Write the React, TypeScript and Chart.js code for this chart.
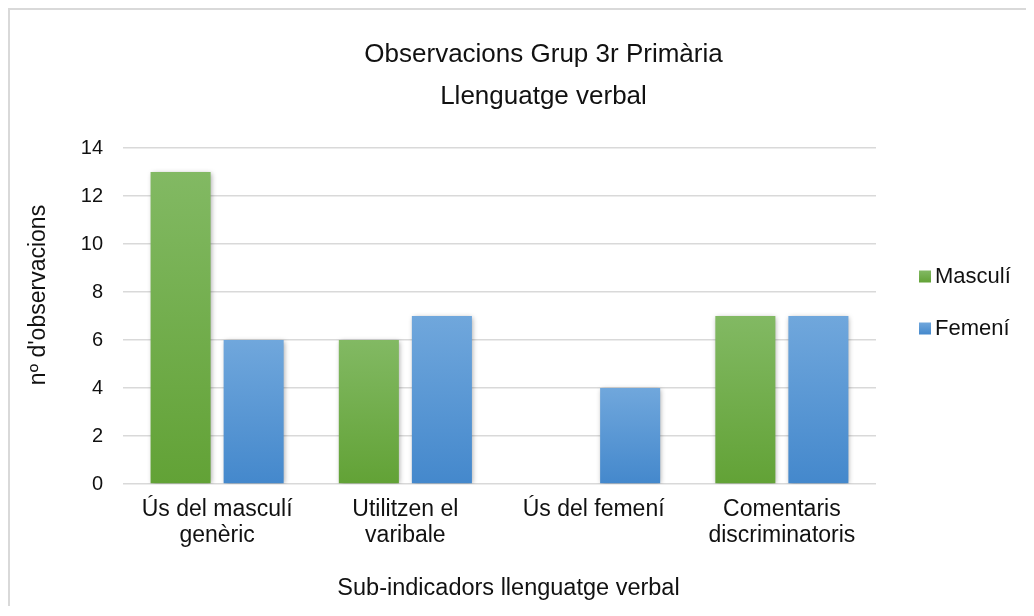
import React, { useEffect, useRef } from "react";
import { Chart, registerables } from "chart.js";

Chart.register(...registerables);

const categories: string[][] = [
  ["Ús del masculí", "genèric"],
  ["Utilitzen el", "varibale"],
  ["Ús del femení"],
  ["Comentaris", "discriminatoris"],
];
const seriesNames = ["Masculí", "Femení"];
const masculiValues = [13, 6, 0, 7];
const femeniValues = [6, 7, 4, 7];
const yTicks = [0, 2, 4, 6, 8, 10, 12, 14];
const titleLines = ["Observacions Grup 3r Primària", "Llenguatge verbal"];
const xAxisTitle = "Sub-indicadors llenguatge verbal";
const yAxisTitle = "nº d'observacions";

const FONT = "'Liberation Sans', Arial, Helvetica, sans-serif";
const TEXT = "#111111";
const GREEN_TOP = "#82b963";
const GREEN_BOTTOM = "#62a236";
const BLUE_TOP = "#70a7dc";
const BLUE_BOTTOM = "#4488cc";

function barGradient(top: string, bottom: string) {
  return (ctx: any) => {
    const chart = ctx.chart;
    const ys = chart.scales && chart.scales.y;
    if (!ys || ctx.type !== "data") return bottom;
    const v = ctx.raw as number;
    const y0 = ys.getPixelForValue(0);
    const y1 = ys.getPixelForValue(v);
    if (!isFinite(y0) || !isFinite(y1) || Math.abs(y0 - y1) < 1) return bottom;
    const g = chart.ctx.createLinearGradient(0, y1, 0, y0);
    g.addColorStop(0, top);
    g.addColorStop(1, bottom);
    return g;
  };
}

const shadowPlugin = {
  id: "barShadow",
  beforeDatasetsDraw(chart: any) {
    const c = chart.ctx;
    c.save();
    c.shadowColor = "rgba(0,0,0,0.35)";
    c.shadowBlur = 5;
    c.shadowOffsetX = 1;
    c.shadowOffsetY = 1;
  },
  afterDatasetsDraw(chart: any) {
    chart.ctx.restore();
  },
};

const textPlugin = {
  id: "textDecor",
  afterDraw(chart: any) {
    const c = chart.ctx;
    c.save();
    c.fillStyle = TEXT;
    // titles
    c.textAlign = "center";
    c.textBaseline = "alphabetic";
    c.font = `26px ${FONT}`;
    c.fillText(titleLines[0], 533.5, 51.7);
    c.fillText(titleLines[1], 533.5, 94);
    // x axis title
    c.font = `23.5px ${FONT}`;
    c.fillText(xAxisTitle, 498.5, 585);
    // y axis title
    c.save();
    c.translate(35, 285);
    c.rotate(-Math.PI / 2);
    c.textAlign = "center";
    c.font = `23px ${FONT}`;
    c.fillText(yAxisTitle, 0, 0);
    c.restore();
    // legend
    const tops = [GREEN_TOP, BLUE_TOP];
    const bottoms = [GREEN_BOTTOM, BLUE_BOTTOM];
    const centers = [266.5, 318.5];
    const baselines = [273.3, 324.5];
    chart.data.datasets.forEach((ds: any, i: number) => {
      const g = c.createLinearGradient(0, centers[i] - 6, 0, centers[i] + 6);
      g.addColorStop(0, tops[i]);
      g.addColorStop(1, bottoms[i]);
      c.fillStyle = g;
      c.fillRect(909, centers[i] - 6, 12, 12);
      c.fillStyle = TEXT;
      c.textAlign = "left";
      c.font = `22px ${FONT}`;
      c.fillText(ds.label, 925, baselines[i]);
    });
    c.restore();
  },
};

export default function App() {
  const ref = useRef<HTMLCanvasElement | null>(null);
  useEffect(() => {
    if (!ref.current) return;
    Chart.defaults.font.family = FONT;
    Chart.defaults.color = TEXT;
    const chart = new Chart(ref.current, {
      type: "bar",
      data: {
        labels: categories,
        datasets: [
          {
            label: seriesNames[0],
            data: masculiValues,
            backgroundColor: barGradient(GREEN_TOP, GREEN_BOTTOM),
            borderWidth: 0,
            categoryPercentage: 0.776,
            barPercentage: 0.822,
          },
          {
            label: seriesNames[1],
            data: femeniValues,
            backgroundColor: barGradient(BLUE_TOP, BLUE_BOTTOM),
            borderWidth: 0,
            categoryPercentage: 0.776,
            barPercentage: 0.822,
          },
        ],
      },
      options: {
        animation: false,
        responsive: true,
        maintainAspectRatio: false,
        layout: { padding: { left: 0, right: 149, top: 138, bottom: 0 } },
        plugins: {
          legend: { display: false },
          title: { display: false },
          tooltip: { enabled: false },
        },
        scales: {
          x: {
            grid: { display: false, drawTicks: false },
            border: { display: false },
            ticks: {
              color: TEXT,
              font: { size: 23, lineHeight: 1.13 },
              padding: 13,
              maxRotation: 0,
              autoSkip: false,
            },
            afterFit: (scale: any) => {
              scale.height = 122;
            },
          },
          y: {
            min: yTicks[0],
            max: yTicks[yTicks.length - 1],
            grid: { color: "#d9d9d9", lineWidth: 1.6, drawTicks: false },
            border: { display: false },
            ticks: {
              stepSize: yTicks[1] - yTicks[0],
              color: TEXT,
              font: { size: 20 },
              padding: 20,
            },
            afterFit: (scale: any) => {
              scale.width = 113;
            },
          },
        },
      },
      plugins: [shadowPlugin, textPlugin],
    });
    return () => chart.destroy();
  }, []);

  return (
    <div
      style={{
        position: "relative",
        width: 1026,
        height: 598,
        boxSizing: "border-box",
        paddingRight: 9,
        borderTop: "2px solid #d9d9d9",
        borderLeft: "2px solid #d9d9d9",
        background: "#ffffff",
      }}
    >
      <div style={{ position: "relative", width: 1015, height: 596 }}>
        <canvas ref={ref} />
      </div>
    </div>
  );
}
